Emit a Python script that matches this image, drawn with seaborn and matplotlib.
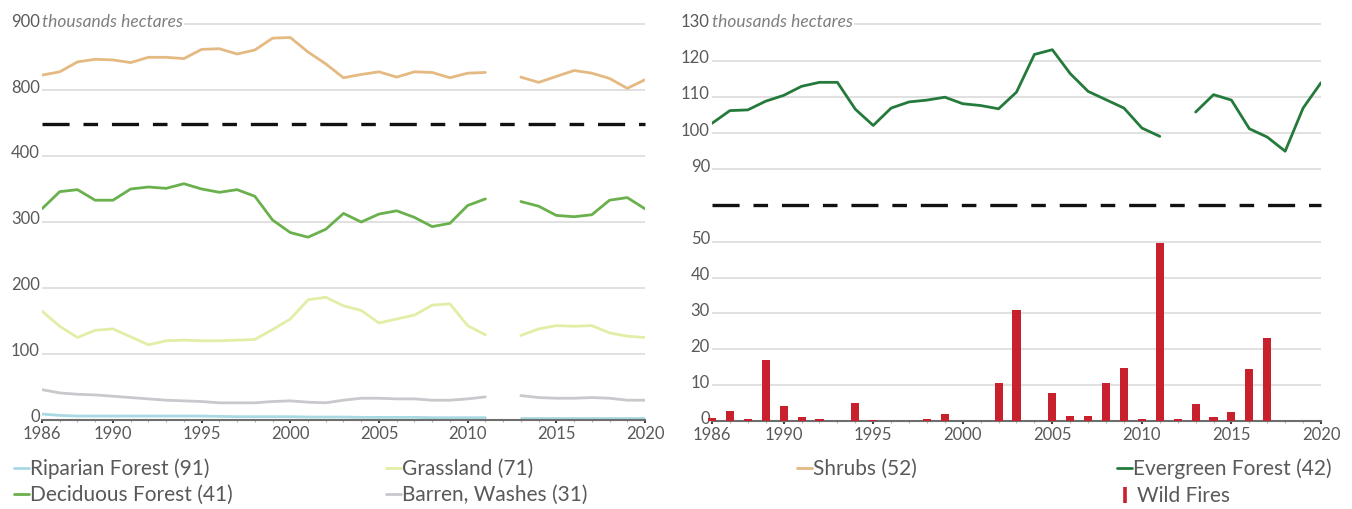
import numpy as np
import pandas as pd
import matplotlib
matplotlib.use("Agg")
import matplotlib.pyplot as plt
import seaborn as sns
from matplotlib.lines import Line2D
from matplotlib.transforms import blended_transform_factory, ScaledTranslation

# ---------------- data ----------------
years = list(range(1986, 2012)) + list(range(2013, 2021))

shrubs = [823, 828, 843, 847, 846, 842, 850, 850, 848, 862, 863, 855, 861, 879, 880,
          858, 840, 819, 824, 828, 820, 828, 827, 819, 826, 827,
          820, 812, 821, 830, 826, 818, 803, 816]
deciduous = [320, 346, 349, 333, 333, 350, 353, 351, 358, 350, 345, 349, 339, 303, 284,
             277, 289, 313, 300, 312, 317, 307, 293, 298, 325, 335,
             331, 324, 310, 308, 311, 333, 337, 320]
grassland = [165, 142, 125, 136, 138, 126, 114, 120, 121, 120, 120, 121, 122, 137, 153,
             182, 186, 173, 166, 147, 153, 159, 174, 176, 143, 129,
             128, 138, 143, 142, 143, 132, 127, 125]
barren = [46, 41, 39, 38, 36, 34, 32, 30, 29, 28, 26, 26, 26, 28, 29,
          27, 26, 30, 33, 33, 32, 32, 30, 30, 32, 35,
          37, 34, 33, 33, 34, 33, 30, 30]
riparian = [9, 7, 6, 6, 6, 6, 6, 6, 6, 6, 5.5, 5, 5, 5, 5,
            4.5, 4.5, 4.5, 4, 4, 4, 4, 3.5, 3.5, 3.5, 3.5,
            3.5, 3.5, 3.5, 3.5, 3.5, 3.5, 3.5, 3.5]
evergreen = [102.7, 106.2, 106.4, 108.8, 110.4, 112.9, 114.0, 114.0, 106.6, 102.1, 106.9,
             108.6, 109.1, 109.9, 108.1, 107.6, 106.7, 111.3, 121.7, 123.0, 116.4, 111.5,
             109.2, 106.9, 101.4, 99.1,
             105.8, 110.6, 109.1, 101.2, 98.9, 95.0, 106.9, 113.9]

fire_years = list(range(1986, 2021))
wild_fires = [0.9, 2.8, 0.6, 17.0, 4.1, 1.1, 0.6, 0.0, 5.1, 0.4, 0.0, 0.0, 0.6, 2.0, 0.1,
              0.0, 10.6, 31.0, 0.0, 7.9, 1.5, 1.4, 10.6, 14.8, 0.6, 49.5, 0.5, 4.8, 1.2,
              2.6, 14.4, 23.2, 0.0, 0.0, 0.0]

xticks = [1986, 1990, 1995, 2000, 2005, 2010, 2015, 2020]

labels = {
    "riparian": "Riparian Forest (91)",
    "grassland": "Grassland (71)",
    "deciduous": "Deciduous Forest (41)",
    "barren": "Barren, Washes (31)",
    "shrubs": "Shrubs (52)",
    "evergreen": "Evergreen Forest (42)",
    "fires": "Wild Fires",
}
colors = {
    "riparian": "#A9D9E2",
    "grassland": "#E2EEA6",
    "deciduous": "#6AB04C",
    "barren": "#C8C8CD",
    "shrubs": "#E5B982",
    "evergreen": "#247A3B",
    "fires": "#C9202E",
}

segment = ["a" if y < 2012 else "b" for y in years]

def long_df(series):
    frames = []
    for key, vals in series.items():
        frames.append(pd.DataFrame({"year": years, "value": vals,
                                    "series": key, "segment": segment}))
    return pd.concat(frames, ignore_index=True)

df_low = long_df({"riparian": riparian, "barren": barren,
                  "grassland": grassland, "deciduous": deciduous})
df_shrub = long_df({"shrubs": shrubs})
df_ever = long_df({"evergreen": evergreen})
df_fire = pd.DataFrame({"year": fire_years, "value": wild_fires})

# ---------------- style ----------------
sns.set_theme(style="white")
plt.rcParams["font.family"] = ["Lato", "DejaVu Sans"]
plt.rcParams["lines.scale_dashes"] = False

TICKC = "#595959"
GRIDC = "#D9D9D9"
W, H = 1352, 509
fig = plt.figure(figsize=(W / 100, H / 100), dpi=100)
LABEL_UP = ScaledTranslation(0, 0.04, fig.dpi_scale_trans)

def ax_px(left, top, right, bottom):
    return fig.add_axes([left / W, 1 - bottom / H, (right - left) / W, (bottom - top) / H])

def style_axis(ax, yticks, ylim, bottom_axis):
    ax.set_xlim(1986, 2020)
    ax.set_ylim(*ylim)
    ax.set_yticks(yticks)
    ax.grid(axis="y", color=GRIDC, linewidth=1.1)
    ax.grid(axis="x", visible=False)
    ax.set_axisbelow(True)
    ax.set_xlabel("")
    ax.set_ylabel("")
    for s in ["top", "right", "left"]:
        ax.spines[s].set_visible(False)
    ax.tick_params(axis="y", length=0, pad=1.5, labelsize=12, labelcolor=TICKC)
    if bottom_axis:
        ax.spines["bottom"].set_color("#6E6E6E")
        ax.spines["bottom"].set_linewidth(1.5)
        ax.set_xticks(xticks)
        ax.set_xticks(range(1986, 2021), minor=True)
        ax.tick_params(axis="x", which="major", length=2.5, width=1.5, color="#404040",
                       pad=1.5, labelsize=12, labelcolor=TICKC, bottom=True)
        ax.tick_params(axis="x", which="minor", length=1.5, width=0.8, color="#B0B0B0",
                       bottom=True)
    else:
        ax.spines["bottom"].set_visible(False)
        ax.set_xticks([])

def raise_ylabels(ax):
    for t in ax.yaxis.get_major_ticks():
        t.label1.set_transform(t.label1.get_transform() + LABEL_UP)

def unit_label(ax, yval):
    tr = blended_transform_factory(ax.transAxes, ax.transData) + LABEL_UP
    ax.text(0.0, yval, "thousands hectares", transform=tr, ha="left",
            va="center_baseline", fontsize=12.5, fontstyle="italic", color="#7F7F7F",
            bbox=dict(facecolor="white", edgecolor="none", pad=0.5), zorder=5)

def dashed_break(x0, x1, y):
    fig.add_artist(Line2D([x0 / W, x1 / W], [1 - y / H, 1 - y / H],
                          transform=fig.transFigure, color="#111111", linewidth=2.4,
                          dashes=(19.5, 10, 10.5, 10), solid_capstyle="butt",
                          dash_capstyle="butt"))

LW = 2.0

# ---------------- left panel ----------------
ax_lt = ax_px(42, 21.0, 645, 96.9)
sns.lineplot(data=df_shrub, x="year", y="value", units="segment", estimator=None,
             color=colors["shrubs"], linewidth=LW, ax=ax_lt, legend=False)
style_axis(ax_lt, [800, 900], (790, 905), bottom_axis=False)
unit_label(ax_lt, 900)

ax_lb = ax_px(42, 149.4, 645, 420)
sns.lineplot(data=df_low, x="year", y="value", hue="series", units="segment",
             estimator=None, palette={k: colors[k] for k in df_low["series"].unique()},
             linewidth=LW, ax=ax_lb, legend=False)
style_axis(ax_lb, [0, 100, 200, 300, 400], (0, 410), bottom_axis=True)

dashed_break(42, 645, 124)

# ---------------- right panel ----------------
ax_rt = ax_px(712, 20.7, 1321, 176.6)
sns.lineplot(data=df_ever, x="year", y="value", units="segment", estimator=None,
             color=colors["evergreen"], linewidth=LW, ax=ax_rt, legend=False)
style_axis(ax_rt, [90, 100, 110, 120, 130], (88, 131), bottom_axis=False)
unit_label(ax_rt, 130)

ax_rb = ax_px(712, 236.3, 1321, 421)
sns.barplot(data=df_fire, x="year", y="value", native_scale=True, width=0.45,
            color=colors["fires"], saturation=1, errorbar=None, linewidth=0,
            ax=ax_rb)
for p in ax_rb.patches:
    p.set_clip_on(False)
    p.set_zorder(3)
    p.set_linewidth(0)
    p.set_edgecolor("none")
style_axis(ax_rb, [0, 10, 20, 30, 40, 50], (0, 51.5), bottom_axis=True)

dashed_break(712, 1321, 205)

for a in (ax_lt, ax_lb, ax_rt, ax_rb):
    raise_ylabels(a)

# ---------------- legends ----------------
FS = 15
def leg(handle, label, x_px, y_px, hl=0.7, pad=0.08):
    fig.legend([handle], [label], loc="center left",
               bbox_to_anchor=(x_px / W, 1 - y_px / H), frameon=False,
               borderpad=0, borderaxespad=0, handlelength=hl, handletextpad=pad,
               fontsize=FS, labelcolor=TICKC)

def line_handle(key):
    return Line2D([], [], color=colors[key], linewidth=2.0)

leg(line_handle("riparian"), labels["riparian"], 14, 469)
leg(line_handle("deciduous"), labels["deciduous"], 14, 495)
leg(line_handle("grassland"), labels["grassland"], 386, 469)
leg(line_handle("barren"), labels["barren"], 386, 495)
leg(line_handle("shrubs"), labels["shrubs"], 797, 469)
leg(line_handle("evergreen"), labels["evergreen"], 1117, 469)
fire_handle = Line2D([], [], color=colors["fires"], marker="|", markersize=11,
                     markeredgewidth=2.6, linestyle="None")
leg(fire_handle, labels["fires"], 1119, 496, hl=0.55, pad=0.3)

fig.savefig("out.png", dpi=100)
